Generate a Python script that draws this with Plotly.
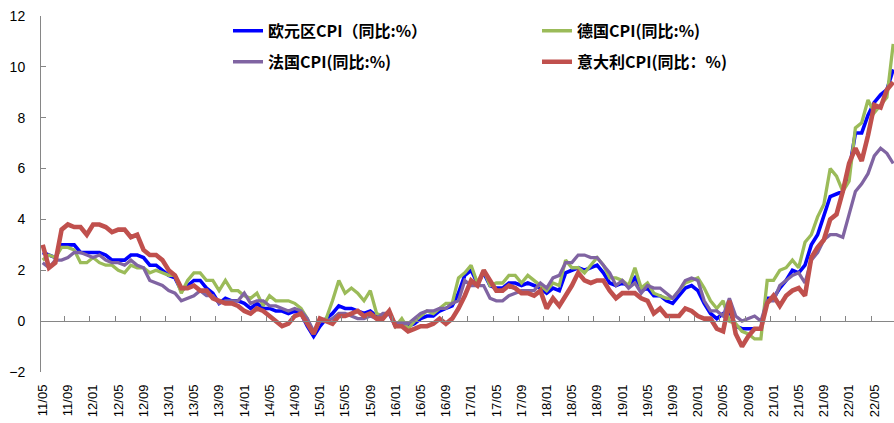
import pandas as pd
import plotly.graph_objects as go

# Monthly categories, labelled YY/MM
months = [p.strftime("%y/%m") for p in pd.period_range("2011-05", "2022-08", freq="M")]

# Year-on-year CPI, %
euro = [2.7, 2.6, 2.5, 3.0, 3.0, 3.0, 2.7,
        2.7, 2.7, 2.7, 2.6, 2.4, 2.4, 2.4, 2.6, 2.6, 2.5, 2.2, 2.2,
        2.0, 1.8, 1.7, 1.2, 1.4, 1.6, 1.6, 1.3, 1.1, 0.7, 0.9, 0.8,
        0.8, 0.7, 0.5, 0.7, 0.5, 0.5, 0.4, 0.4, 0.3, 0.4, 0.3, -0.2,
        -0.6, -0.2, 0.1, 0.3, 0.6, 0.5, 0.5, 0.4, 0.3, 0.4, 0.2, 0.2,
        0.3, -0.2, 0.0, -0.2, -0.1, 0.1, 0.2, 0.2, 0.4, 0.5, 0.6, 1.1,
        1.8, 2.0, 1.5, 1.9, 1.4, 1.3, 1.3, 1.5, 1.5, 1.4, 1.5, 1.4,
        1.3, 1.1, 1.3, 1.2, 1.9, 2.0, 2.1, 2.0, 2.1, 2.2, 1.9, 1.5,
        1.4, 1.5, 1.4, 1.7, 1.2, 1.3, 1.0, 1.0, 0.8, 0.7, 1.0, 1.3,
        1.4, 1.2, 0.7, 0.3, 0.1, 0.3, 0.4, -0.2, -0.3, -0.3, -0.3, -0.3,
        0.9, 0.9, 1.3, 1.6, 2.0, 1.9, 2.2, 3.0, 3.4, 4.1, 4.9, 5.0,
        5.1, 5.9, 7.4, 7.4, 8.1, 8.6, 8.9, 9.1, 9.9]

germany = [2.4, 2.6, 2.5, 2.9, 2.9, 2.8, 2.3,
           2.3, 2.5, 2.3, 2.2, 2.2, 2.0, 1.9, 2.2, 2.1, 2.1, 1.9, 2.0,
           1.9, 1.8, 1.8, 1.1, 1.6, 1.9, 1.9, 1.6, 1.6, 1.2, 1.6, 1.2,
           1.2, 1.0, 0.9, 1.1, 0.6, 1.0, 0.8, 0.8, 0.8, 0.7, 0.5, 0.1,
           -0.5, 0.0, 0.1, 0.8, 1.6, 1.1, 1.3, 1.1, 0.8, 1.2, 0.3, 0.2,
           0.4, -0.2, 0.1, -0.3, 0.0, 0.2, 0.4, 0.3, 0.5, 0.7, 0.7, 1.7,
           1.9, 2.2, 1.5, 2.0, 1.4, 1.5, 1.5, 1.8, 1.8, 1.5, 1.8, 1.6,
           1.4, 1.2, 1.5, 1.4, 2.4, 2.1, 2.1, 1.9, 2.2, 2.5, 2.2, 1.7,
           1.7, 1.6, 1.4, 2.1, 1.3, 1.5, 1.1, 1.0, 0.9, 0.9, 1.2, 1.5,
           1.6, 1.7, 1.3, 0.8, 0.5, 0.8, 0.0, -0.1, -0.4, -0.5, -0.7, -0.7,
           1.6, 1.6, 2.0, 2.1, 2.4, 2.1, 3.1, 3.4, 4.1, 4.6, 6.0, 5.7,
           5.1, 5.5, 7.6, 7.8, 8.7, 8.2, 8.5, 8.8, 10.9]

france = [2.3, 2.1, 2.4, 2.4, 2.5, 2.7, 2.7,
          2.6, 2.5, 2.6, 2.4, 2.3, 2.3, 2.2, 2.4, 2.2, 2.1, 1.6, 1.5,
          1.4, 1.2, 1.1, 0.8, 0.9, 1.0, 1.2, 1.0, 1.0, 0.7, 0.8, 0.8,
          0.8, 1.1, 0.7, 0.8, 0.8, 0.6, 0.6, 0.5, 0.4, 0.5, 0.4, 0.1,
          -0.4, 0.0, 0.0, 0.1, 0.3, 0.3, 0.2, 0.1, 0.1, 0.2, 0.1, 0.3,
          0.3, -0.1, -0.1, -0.1, 0.1, 0.3, 0.4, 0.4, 0.5, 0.5, 0.7, 0.8,
          1.6, 1.4, 1.4, 1.4, 0.9, 0.8, 0.8, 1.0, 1.1, 1.2, 1.2, 1.2,
          1.5, 1.3, 1.7, 1.8, 2.3, 2.3, 2.6, 2.6, 2.5, 2.5, 2.2, 1.9,
          1.4, 1.6, 1.3, 1.5, 1.1, 1.4, 1.3, 1.3, 1.1, 0.9, 1.2, 1.6,
          1.7, 1.6, 0.8, 0.4, 0.4, 0.2, 0.9, 0.2, 0.0, 0.1, 0.2, 0.0,
          0.8, 0.8, 1.4, 1.6, 1.8, 1.9, 1.5, 2.4, 2.7, 3.2, 3.4, 3.4,
          3.3, 4.2, 5.1, 5.4, 5.8, 6.5, 6.8, 6.6, 6.2]

italy = [3.0, 2.1, 2.3, 3.6, 3.8, 3.7, 3.7,
         3.4, 3.8, 3.8, 3.7, 3.5, 3.6, 3.6, 3.3, 3.4, 2.8, 2.6, 2.6,
         2.4, 2.0, 1.8, 1.3, 1.3, 1.4, 1.2, 1.2, 0.9, 0.8, 0.7, 0.7,
         0.6, 0.4, 0.3, 0.5, 0.4, 0.2, 0.0, -0.2, -0.1, 0.2, 0.3, -0.1,
         -0.5, 0.1, 0.0, -0.1, 0.2, 0.2, 0.3, 0.4, 0.2, 0.3, 0.1, 0.1,
         0.4, -0.2, -0.2, -0.4, -0.3, -0.2, -0.2, -0.1, 0.1, -0.1, 0.1, 0.5,
         1.0, 1.6, 1.4, 2.0, 1.6, 1.2, 1.2, 1.4, 1.3, 1.1, 1.1, 1.0,
         1.2, 0.5, 0.9, 0.6, 1.0, 1.4, 1.9, 1.6, 1.5, 1.6, 1.6, 1.2,
         0.9, 1.1, 1.1, 1.1, 0.9, 0.8, 0.3, 0.5, 0.2, 0.2, 0.2, 0.5,
         0.4, 0.2, 0.1, 0.1, -0.3, -0.4, 0.8, -0.5, -1.0, -0.6, -0.3, -0.3,
         0.7, 1.0, 0.6, 1.0, 1.2, 1.3, 1.0, 2.5, 2.9, 3.2, 4.0, 4.2,
         5.1, 6.2, 6.8, 6.3, 7.3, 8.5, 8.4, 9.1, 9.4]

series = [
    ("欧元区CPI（同比:%）", euro, "#0000FF", 3.6, "legend"),
    ("德国CPI(同比:%)", germany, "#9BBB59", 3.3, "legend"),
    ("法国CPI(同比:%)", france, "#8064A2", 3.3, "legend2"),
    ("意大利CPI(同比：%)", italy, "#C0504D", 4.6, "legend2"),
]

fig = go.Figure()
for name, vals, color, width, leg in series:
    fig.add_trace(go.Scatter(
        x=months, y=vals, name=name, mode="lines",
        line=dict(color=color, width=width), legend=leg,
    ))

# carrier for the zero-crossing axis that holds the tick marks
fig.add_trace(go.Scatter(x=months, y=[None] * len(months), xaxis="x2",
                         showlegend=False, hoverinfo="skip"))

L, R, T, B = 41, 0, 16, 51
W, H = 894, 423
px_per_cat = 6.3
x0 = -(42.7 - L) / px_per_cat
x1 = x0 + (W - L - R) / px_per_cat

axis_grey = "#868686"
legend_font = dict(family="Noto Sans CJK SC", size=16, color="#000000", weight="bold")

fig.update_layout(
    width=W, height=H,
    margin=dict(l=L, r=R, t=T, b=B, pad=0),
    paper_bgcolor="white", plot_bgcolor="white",
    xaxis=dict(
        type="category", categoryorder="array", categoryarray=months,
        range=[x0, x1], tickmode="linear", tick0=0, dtick=4,
        tickangle=-90, ticks="", showline=False, showgrid=False, zeroline=False,
        tickfont=dict(family="Liberation Sans, Arial", size=13, color="#000000"),
        ticklabelstandoff=9,
    ),
    xaxis2=dict(
        type="category", categoryorder="array", categoryarray=months,
        overlaying="x", matches="x", anchor="free", position=2 / 14,
        range=[x0, x1], tickmode="linear", tick0=0, dtick=4,
        tickson="boundaries", ticks="inside", ticklen=5, tickcolor=axis_grey,
        showticklabels=False, showline=True, linecolor=axis_grey, linewidth=1,
        showgrid=False, zeroline=False,
    ),
    yaxis=dict(
        range=[-2, 12], tickmode="linear", tick0=-2, dtick=2,
        ticks="inside", ticklen=5, tickcolor=axis_grey,
        showline=True, linecolor=axis_grey, linewidth=1,
        showgrid=False, zeroline=False,
        tickfont=dict(family="Liberation Sans, Arial", size=14, color="#000000"),
        ticklabelstandoff=12,
    ),
    legend=dict(
        orientation="h", x=(228 - L) / (W - L - R), xanchor="left",
        y=1.006, yanchor="top", entrywidth=264,
        font=legend_font, bgcolor="rgba(0,0,0,0)",
    ),
    legend2=dict(
        orientation="h", x=(228 - L) / (W - L - R), xanchor="left",
        y=0.919, yanchor="top", entrywidth=264,
        font=legend_font, bgcolor="rgba(0,0,0,0)",
    ),
    showlegend=True,
)

fig.write_html("out.html")
